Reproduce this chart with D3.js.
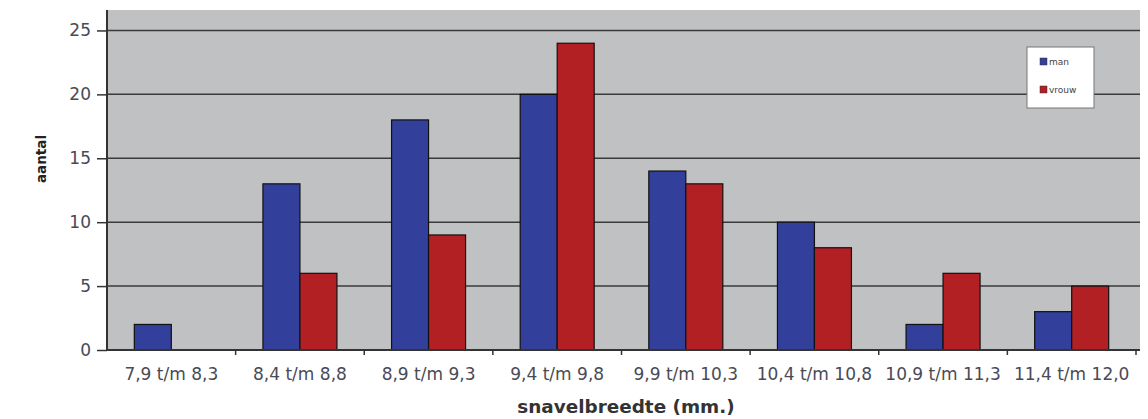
<!DOCTYPE html>
<html><head><meta charset="utf-8">
<script src="https://cdn.jsdelivr.net/npm/d3@7"></script>
<style>body{margin:0;background:#fff;}svg{display:block;font-family:"DejaVu Sans",sans-serif;}</style>
</head><body><svg id="c" width="1148" height="419"></svg>
<script>
const categories = ["7,9 t/m 8,3","8,4 t/m 8,8","8,9 t/m 9,3","9,4 t/m 9,8","9,9 t/m 10,3","10,4 t/m 10,8","10,9 t/m 11,3","11,4 t/m 12,0"];
const man = [2,13,18,20,14,10,2,3];
const vrouw = [0,6,9,24,13,8,6,5];
const seriesNames = ["man","vrouw"];
const yTicks = [0,5,10,15,20,25];

const colors = {man:"#323f9b", vrouw:"#b32024"};
const FONT = "'DejaVu Sans', sans-serif";
const svg = d3.select("#c");
const L=107, R=1136, T=10, B=350;
const y = d3.scaleLinear().domain([0,26.6]).range([B,T]);
const x = d3.scaleBand().domain(categories).range([L,R]).paddingInner(0).paddingOuter(0);
const inner = d3.scaleBand().domain(seriesNames).range([0,74]);

svg.append("rect").attr("x",L).attr("y",T).attr("width",R-L+4).attr("height",B-T).attr("fill","#c0c1c3");

// gridlines
svg.append("g").selectAll("line").data(yTicks.filter(d=>d>0)).join("line")
  .attr("x1",L).attr("x2",R+4).attr("y1",d=>y(d)).attr("y2",d=>y(d))
  .attr("stroke","#3a3a3a").attr("stroke-width",1.5);

// bars
const data = categories.map((c,i)=>({c, vals:[{k:"man",v:man[i]},{k:"vrouw",v:vrouw[i]}]}));
const g = svg.append("g").selectAll("g").data(data).join("g")
  .attr("transform",d=>`translate(${x(d.c)+x.bandwidth()/2-37},0)`);
g.selectAll("rect").data(d=>d.vals.filter(e=>e.v>0)).join("rect")
  .attr("x",d=>inner(d.k)).attr("width",inner.bandwidth())
  .attr("y",d=>y(d.v)).attr("height",d=>B-y(d.v))
  .attr("fill",d=>colors[d.k]).attr("stroke","#111").attr("stroke-width",1.2);

// y axis
const ya = svg.append("g").attr("transform",`translate(${L},0)`)
  .call(d3.axisLeft(y).tickValues(yTicks).tickSize(10).tickPadding(6));
ya.select(".domain").attr("d",`M0,${T}V${B}`).attr("stroke","#333").attr("stroke-width",2);
ya.selectAll(".tick line").attr("stroke","#333").attr("stroke-width",1.5);
ya.selectAll("text").attr("font-size",17).attr("fill","#4a4a55").style("font-family",FONT);

// x axis
const xa = svg.append("g").attr("transform",`translate(0,${B})`)
  .call(d3.axisBottom(x).tickSize(0).tickPadding(18));
xa.select(".domain").attr("d",`M${L},0H${R+4}`).attr("stroke","#333").attr("stroke-width",2);
xa.selectAll("text").attr("font-size",17).attr("fill","#4a4a55").style("font-family",FONT);
svg.append("g").selectAll("line").data(categories).join("line")
  .attr("x1",d=>x(d)+x.bandwidth()).attr("x2",d=>x(d)+x.bandwidth())
  .attr("y1",B).attr("y2",B+5).attr("stroke","#333").attr("stroke-width",1.5);

// axis titles
svg.append("text").attr("transform","translate(46,159) rotate(-90)").attr("text-anchor","middle")
  .attr("font-size",13.5).attr("font-weight","bold").attr("fill","#222").text("aantal");
svg.append("text").attr("x",626).attr("y",413).attr("text-anchor","middle")
  .attr("font-size",18.4).attr("font-weight","bold").attr("fill","#333").text("snavelbreedte (mm.)");

// legend
const lg = svg.append("g").attr("transform","translate(1027,47)");
lg.append("rect").attr("width",67).attr("height",61).attr("fill","#fff").attr("stroke","#777");
seriesNames.forEach((s,i)=>{
  lg.append("rect").attr("x",13).attr("y",11+i*28).attr("width",7).attr("height",7).attr("fill",colors[s]).attr("stroke","#333").attr("stroke-width",0.5);
  lg.append("text").attr("x",22).attr("y",18+i*28).attr("font-size",9).attr("fill","#444").text(s);
});
</script></body></html>
